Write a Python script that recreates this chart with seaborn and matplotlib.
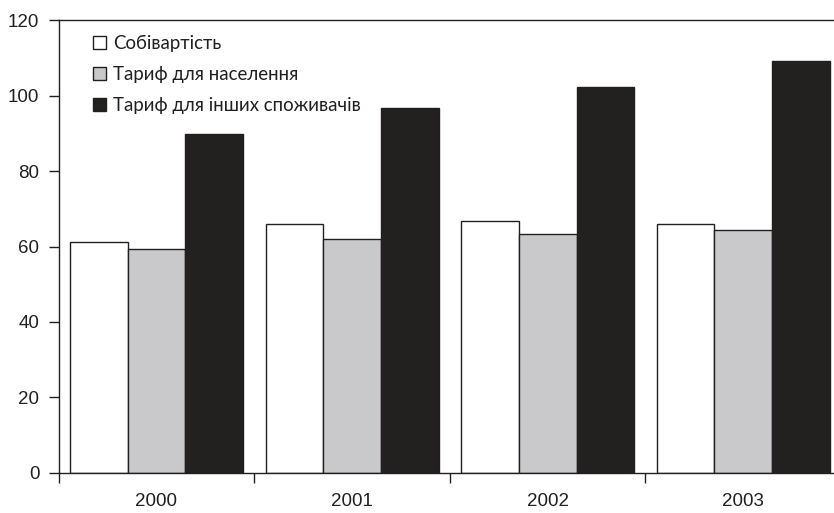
import matplotlib
matplotlib.use("Agg")
import matplotlib.pyplot as plt
import pandas as pd
import seaborn as sns

# Data
years = ["2000", "2001", "2002", "2003"]
cost = [61.3, 65.9, 66.7, 65.9]
tariff_households = [59.3, 61.9, 63.3, 64.3]
tariff_others = [89.8, 96.7, 102.3, 109.2]
series_names = ["Собівартість", "Тариф для населення", "Тариф для інших споживачів"]

df = pd.DataFrame({
    "year": years * 3,
    "value": cost + tariff_households + tariff_others,
    "series": [series_names[0]] * 4 + [series_names[1]] * 4 + [series_names[2]] * 4,
})

sns.set_style("white")
plt.rcParams["font.family"] = ["Liberation Sans", "DejaVu Sans"]

fig = plt.figure(figsize=(8.34, 5.13), dpi=100)
# right edge runs slightly past the picture, as in the reference
ax = fig.add_axes([58.7 / 834, 1 - 472.7 / 513, 782.4 / 834, 452.4 / 513])

palette = {series_names[0]: "#ffffff", series_names[1]: "#c8c9cc", series_names[2]: "#231f20"}
sns.barplot(data=df, x="year", y="value", hue="series", palette=palette,
            width=0.885, gap=0, edgecolor="#231f20", linewidth=1.0, ax=ax)

ax.set_ylim(0, 120)
ax.set_yticks(range(0, 121, 20))
ax.set_xlim(-0.5, 3.5)
ax.set_xlabel("")
ax.set_ylabel("")

for side in ["left", "top", "bottom"]:
    ax.spines[side].set_visible(True)
    ax.spines[side].set_color("#231f20")
    ax.spines[side].set_linewidth(1.0)
ax.spines["right"].set_visible(False)

# year labels in the middle, tick marks on the category borders
ax.set_xticks([0, 1, 2, 3])
ax.set_xticklabels(years)
ax.set_xticks([-0.5, 0.5, 1.5, 2.5, 3.5], minor=True)
ax.tick_params(axis="x", which="major", length=0, pad=14.5, labelsize=13.5, labelcolor="#231f20")
ax.tick_params(axis="x", which="minor", direction="out", length=7, width=1, color="#231f20", bottom=True)
ax.tick_params(axis="y", direction="out", length=7, width=1, color="#231f20", left=True,
               labelsize=13.5, labelcolor="#231f20", pad=7)

leg = ax.legend(loc="upper left", bbox_to_anchor=(0.044, 0.968), frameon=False,
                borderaxespad=0, borderpad=0,
                handlelength=0.7, handleheight=0.7, handletextpad=0.35,
                labelspacing=0.76, prop={"family": ["Lato", "DejaVu Sans"], "size": 13.4})
for t in leg.get_texts():
    t.set_color("#231f20")

fig.savefig("out.png", dpi=100)
